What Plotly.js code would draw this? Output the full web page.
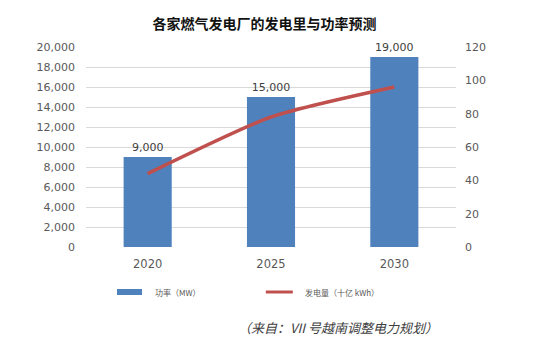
<!DOCTYPE html>
<html><head><meta charset="utf-8">
<script src="https://cdn.plot.ly/plotly-3.0.1.min.js"></script>
<style>html,body{margin:0;padding:0;background:#fff}#c{width:552px;height:356px}</style>
</head><body><div id="c"></div>
<script>
const years = ['2020', '2025', '2030'];
const powerMW = [9000, 15000, 19000];
const energyTWh = [44, 78, 96];
const powerName = '功率（MW）';
const energyName = '发电量（十亿 kWh）';
const titleText = '各家燃气发电厂的发电里与功率预测';
const sourceText = '（来自：VII 号越南调整电力规划）';

const BLUE = '#4F81BD', RED = '#C0504D', TXT = '#595959';
const F = 'DejaVu Sans, Verdana, sans-serif';
const CJK = 'Noto Sans CJK SC, sans-serif';

const traces = [
  {type:'bar', x:years, y:powerMW, name:powerName, marker:{color:BLUE}, width:0.39,
   text: powerMW.map(v=>v.toLocaleString('en-US')), textposition:'outside', cliponaxis:false,
   textfont:{family:F, size:11, color:'#404040'}, hoverinfo:'none'},
  {type:'scatter', mode:'lines', x:years, y:energyTWh, name:energyName, yaxis:'y2',
   line:{color:RED, width:3.5, shape:'spline', smoothing:0.6}, hoverinfo:'none'}
];

const layout = {
  width:552, height:356, paper_bgcolor:'#fff', plot_bgcolor:'#fff',
  margin:{l:86, r:96, t:47, b:109},
  showlegend:false,
  title:{text:titleText, font:{family:CJK, size:14, color:'#111', weight:'bold'},
         x:0.479, xanchor:'center', y:0.933, yanchor:'middle', xref:'container', yref:'container'},
  xaxis:{type:'category', showgrid:false, zeroline:false, showline:false, ticks:'',
         tickfont:{family:F, size:11.5, color:TXT}, ticklabelstandoff:8},
  yaxis:{range:[0,20000], dtick:2000, tickformat:',d', showgrid:true, gridcolor:'#D9D9D9',
         zeroline:false, showline:false, ticks:'', tickfont:{family:F, size:11, color:TXT},
         ticklabelstandoff:10},
  yaxis2:{range:[0,120], dtick:20, overlaying:'y', side:'right', showgrid:false, zeroline:false,
          showline:false, ticks:'', tickfont:{family:F, size:11, color:TXT}, ticklabelstandoff:8},
  shapes:[
    {type:'rect', xref:'paper', yref:'paper', x0:0.0838, x1:0.1514, y0:-0.24, y1:-0.21,
     fillcolor:BLUE, line:{width:0}},
    {type:'line', xref:'paper', yref:'paper', x0:0.486, x1:0.559, y0:-0.225, y1:-0.225,
     line:{color:RED, width:3}}
  ],
  annotations:[
    {xref:'paper', yref:'paper', x:0.181, y:-0.225, xanchor:'left', yanchor:'middle', showarrow:false,
     text:powerName, font:{family:CJK, size:8, color:TXT}},
    {xref:'paper', yref:'paper', x:0.586, y:-0.225, xanchor:'left', yanchor:'middle', showarrow:false,
     text:energyName, font:{family:CJK, size:8, color:TXT}},
    {xref:'paper', yref:'paper', x:0.405, y:-0.40, xanchor:'left', yanchor:'middle', showarrow:false,
     text:'<i>'+sourceText+'</i>', font:{family:CJK, size:13, color:'#404040'}}
  ]
};
Plotly.newPlot('c', traces, layout, {staticPlot:true});
</script></body></html>
